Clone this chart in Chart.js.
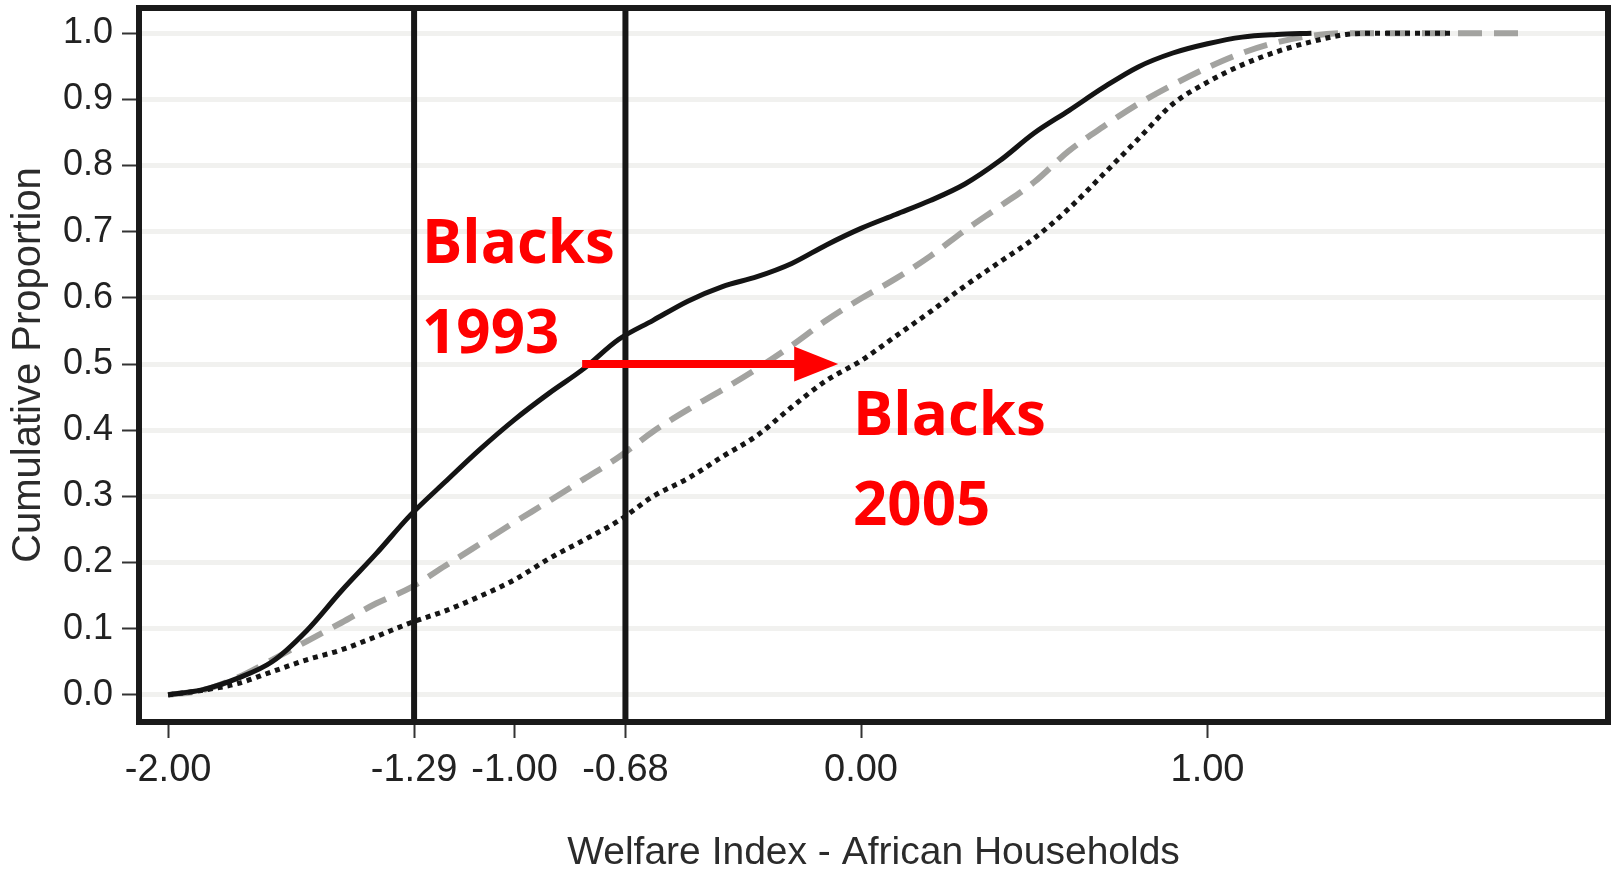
<!DOCTYPE html>
<html>
<head>
<meta charset="utf-8">
<script src="https://cdn.jsdelivr.net/npm/chart.js@4.4.1/dist/chart.umd.min.js"></script>
<style>
  html, body { margin: 0; padding: 0; background: #fff; }
</style>
</head>
<body>
<canvas id="cdfChart" width="1611" height="874"></canvas>
<script>
// welfare index grid (x)
const welfareX = [
  -2.0, -1.9, -1.8, -1.7, -1.6, -1.5, -1.4, -1.3, -1.2, -1.1,
  -1.0, -0.9, -0.8, -0.7, -0.6, -0.5, -0.4, -0.3, -0.2, -0.1,
   0.0,  0.1,  0.2,  0.3,  0.4,  0.5,  0.6,  0.7,  0.8,  0.9,
   1.0,  1.1,  1.2,  1.3,  1.4,  1.5,  1.6,  1.7,  1.8,  1.9
];

// cumulative proportions
const blacks1993 = [
  0.000, 0.008, 0.025, 0.050, 0.097, 0.157, 0.213, 0.272, 0.322, 0.371,
  0.416, 0.456, 0.493, 0.537, 0.566, 0.595, 0.617, 0.632, 0.652, 0.680,
  0.705, 0.726, 0.747, 0.772, 0.807, 0.849, 0.883, 0.918, 0.949, 0.970,
  0.984, 0.994, 0.998, 1.000, null, null, null, null, null, null
];
const blacksMid = [
  0.000, 0.007, 0.026, 0.053, 0.081, 0.109, 0.138, 0.162, 0.195, 0.228,
  0.261, 0.293, 0.326, 0.359, 0.398, 0.431, 0.461, 0.493, 0.528, 0.566,
  0.599, 0.629, 0.663, 0.702, 0.738, 0.775, 0.822, 0.859, 0.893, 0.922,
  0.948, 0.970, 0.986, 0.996, 1.000, 1.000, 1.000, 1.000, 1.000, 1.000
];
const blacks2005 = [
  0.000, 0.007, 0.017, 0.035, 0.053, 0.068, 0.088, 0.109, 0.127, 0.149,
  0.174, 0.206, 0.234, 0.263, 0.300, 0.327, 0.360, 0.392, 0.435, 0.475,
  0.505, 0.542, 0.579, 0.618, 0.654, 0.690, 0.735, 0.787, 0.840, 0.893,
  0.926, 0.952, 0.972, 0.987, 0.998, 1.000, 1.000, 1.000, null, null
];

const xTickValues = [-2.0, -1.29, -1.0, -0.68, 0.0, 1.0];
const yTickValues = [0.0, 0.1, 0.2, 0.3, 0.4, 0.5, 0.6, 0.7, 0.8, 0.9, 1.0];
const cutoffLines = [-1.29, -0.68];

const noteText = ["Blacks", "1993", "Blacks", "2005"];

function toPoints(ys) {
  return welfareX.map((x, i) => ({ x: x, y: ys[i] })).filter(p => p.y !== null);
}

// where the red notes sit, in data units (left edge, baseline)
const noteAnchors = [
  { x: -1.267, y: 0.653 },
  { x: -1.267, y: 0.517 },
  { x: -0.023, y: 0.393 },
  { x: -0.023, y: 0.257 }
];
const arrowFrom = { x: -0.805, y: 0.5 };
const arrowTo = { x: -0.066, y: 0.5 };

const overlay = {
  id: "overlay",
  afterDatasetsDraw(chart) {
    const { ctx, chartArea: a, scales } = chart;
    const xs = scales.x, ys = scales.y;
    ctx.save();

    // cut-off lines
    ctx.strokeStyle = "#161616";
    ctx.lineWidth = 6;
    cutoffLines.forEach(v => {
      const px = xs.getPixelForValue(v);
      ctx.beginPath();
      ctx.moveTo(px, a.top);
      ctx.lineTo(px, a.bottom);
      ctx.stroke();
    });

    // frame
    ctx.strokeStyle = "#1a1a1a";
    ctx.lineWidth = 6;
    ctx.strokeRect(a.left, a.top, a.right - a.left, a.bottom - a.top);

    // red arrow
    const x0 = xs.getPixelForValue(arrowFrom.x);
    const x1 = xs.getPixelForValue(arrowTo.x);
    const yy = ys.getPixelForValue(arrowFrom.y);
    ctx.strokeStyle = "#ff0000";
    ctx.fillStyle = "#ff0000";
    ctx.lineWidth = 8;
    ctx.beginPath();
    ctx.moveTo(x0, yy);
    ctx.lineTo(x1 - 40, yy);
    ctx.stroke();
    ctx.beginPath();
    ctx.moveTo(x1, yy);
    ctx.lineTo(x1 - 44, yy - 17.5);
    ctx.lineTo(x1 - 44, yy + 17.5);
    ctx.closePath();
    ctx.fill();

    // red notes
    ctx.font = "700 60px 'Open Sans'";
    ctx.textAlign = "left";
    ctx.textBaseline = "alphabetic";
    noteText.forEach((t, i) => {
      ctx.fillText(t, xs.getPixelForValue(noteAnchors[i].x), ys.getPixelForValue(noteAnchors[i].y));
    });

    ctx.restore();
  }
};

const axisFont = "'Liberation Sans', Arial, sans-serif";

new Chart(document.getElementById("cdfChart"), {
  type: "line",
  data: {
    datasets: [
      {
        label: "Blacks 1993",
        data: toPoints(blacks1993),
        borderColor: "#141414",
        borderWidth: 5,
        pointRadius: 0,
        cubicInterpolationMode: "monotone",
        fill: false
      },
      {
        label: "Blacks 2005",
        data: toPoints(blacks2005),
        borderColor: "#151515",
        borderWidth: 5,
        borderDash: [5, 5],
        pointRadius: 0,
        cubicInterpolationMode: "monotone",
        fill: false
      },
      {
        label: "Blacks (between)",
        data: toPoints(blacksMid),
        borderColor: "#a3a3a0",
        borderWidth: 6,
        borderDash: [24, 12],
        pointRadius: 0,
        cubicInterpolationMode: "monotone",
        fill: false
      }
    ]
  },
  options: {
    responsive: false,
    animation: false,
    layout: { padding: { top: 8, right: 3, left: 0, bottom: 0 } },
    plugins: {
      legend: { display: false },
      tooltip: { enabled: false }
    },
    scales: {
      x: {
        type: "linear",
        min: -2.084,
        max: 2.156,
        afterBuildTicks: s => { s.ticks = xTickValues.map(v => ({ value: v })); },
        afterFit: s => { s.height = 152; s.paddingLeft = 0; s.paddingRight = 0; },
        ticks: {
          autoSkip: false,
          maxRotation: 0,
          padding: 10,
          color: "#222",
          font: { family: axisFont, size: 38 },
          callback: v => v.toFixed(2)
        },
        grid: {
          drawOnChartArea: false,
          drawTicks: true,
          tickLength: 16,
          tickWidth: 2,
          tickColor: "#333"
        },
        border: { display: false },
        title: {
          display: true,
          text: "Welfare Index - African Households",
          color: "#2b2b2b",
          font: { family: axisFont, size: 39, lineHeight: 1.0 },
          padding: { top: 0, bottom: 1 }
        }
      },
      y: {
        type: "linear",
        min: -0.041,
        max: 1.038,
        afterBuildTicks: s => { s.ticks = yTickValues.map(v => ({ value: v })); },
        afterFit: s => { s.width = 139; s.paddingTop = 0; s.paddingBottom = 0; },
        ticks: {
          padding: 9,
          color: "#222",
          font: { family: axisFont, size: 36 },
          callback: v => v.toFixed(1)
        },
        grid: {
          color: "#f1f1ef",
          lineWidth: 5,
          drawTicks: true,
          tickLength: 17,
          tickWidth: 2,
          tickColor: "#333"
        },
        border: { display: false },
        title: {
          display: true,
          text: "Cumulative Proportion",
          color: "#2b2b2b",
          font: { family: axisFont, size: 40, lineHeight: 1.2 },
          padding: { top: 5, bottom: 0 }
        }
      }
    }
  },
  plugins: [overlay]
});
</script>
</body>
</html>
